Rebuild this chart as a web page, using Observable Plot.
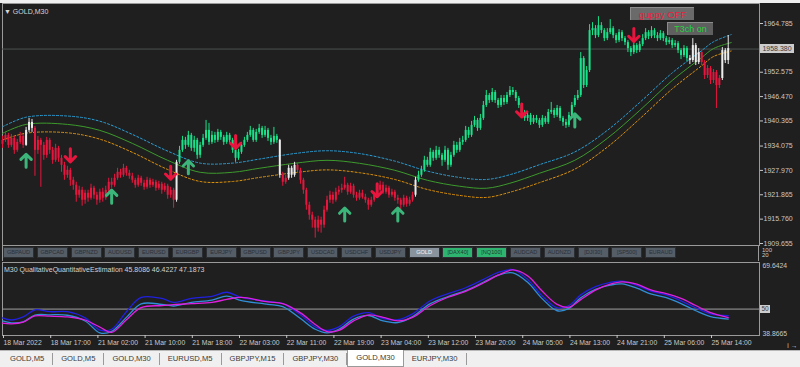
<!DOCTYPE html>
<html><head><meta charset="utf-8">
<script src="https://cdn.jsdelivr.net/npm/d3@7"></script>
<script src="https://cdn.jsdelivr.net/npm/@observablehq/plot@0.6"></script>
<style>
html,body{margin:0;padding:0;width:800px;height:367px;overflow:hidden;background:#f0f0f0;font-family:"Liberation Sans",Arial,sans-serif;}
.abs{position:absolute;}
#dark{left:0;top:3px;width:800px;height:347px;background:#1f1f1f;}
#main{left:0;top:3px;}
#ind{left:0;top:261px;}
.btn{position:absolute;top:247px;width:29px;height:9px;border:1px solid #2b2f33;background:#555d67;color:#2a3038;font-size:5.6px;line-height:9px;text-align:center;white-space:nowrap;}
.btn.act{background:#89939d;color:#f4f4f4;}
.btn.on{background:#2fb470;color:#1d3b2b;}
#tabs{left:0;top:350px;width:800px;height:17px;background:#f0f0f0;border-top:1px solid #b8b8b8;display:flex;font-size:7.6px;color:#3a3a3a;}
.tab{padding:0 8px;border-right:1px solid #9a9a9a;height:12px;margin-top:2px;line-height:12px;white-space:nowrap;}
.tab.cur{background:#fff;border:1px solid #9a9a9a;border-top:none;height:16px;margin-top:-1px;line-height:16px;}
</style></head><body>
<div id="dark" class="abs"></div>
<div id="main" class="abs"></div>
<div id="ind" class="abs"></div>
<div id="overlay"></div>
<div id="tabs" class="abs"></div>
<script>
// ---------- data ----------
const firstOpen = 1934.5;
const closes = [1935.5,1936.75,1934.25,1936.0,1933.0,1935.0,1936.5,1934.25,1938.0,1940.0,
1938.5,1933.0,1935.5,1934.25,1931.75,1935.5,1933.0,1930.5,1933.5,1931.0,
1929.25,1926.75,1928.0,1925.5,1924.25,1921.75,1923.0,1920.5,1922.25,1921.0,
1923.5,1921.75,1920.5,1922.5,1921.0,1923.0,1925.0,1924.25,1926.0,1927.5,
1926.75,1928.5,1927.25,1926.5,1925.5,1924.25,1926.0,1924.75,1923.75,1925.5,
1924.25,1925.0,1923.5,1924.5,1923.0,1924.0,1921.75,1923.0,1920.5,1930.0,
1933.0,1935.5,1934.25,1936.75,1933.5,1935.5,1931.75,1934.25,1936.0,1938.0,
1935.0,1936.75,1935.5,1937.5,1936.25,1935.0,1936.75,1935.5,1933.0,1931.0,
1932.5,1934.25,1935.5,1936.75,1938.0,1935.5,1937.5,1938.5,1936.75,1938.0,
1936.0,1935.0,1936.5,1935.5,1926.75,1925.0,1926.0,1928.5,1926.75,1929.25,
1928.0,1925.5,1923.0,1919.25,1916.75,1915.5,1913.5,1915.5,1914.25,1918.0,
1920.5,1921.75,1920.5,1922.5,1923.0,1923.5,1924.25,1922.5,1924.0,1921.75,
1921.0,1922.25,1921.25,1920.5,1919.25,1920.5,1921.75,1923.0,1924.25,1922.5,
1923.5,1921.75,1922.5,1921.0,1920.5,1919.25,1921.0,1919.5,1920.5,1921.75,
1925.5,1926.75,1928.0,1930.5,1929.25,1932.5,1931.0,1933.0,1931.75,1930.5,
1933.0,1929.25,1931.75,1934.25,1933.0,1935.0,1935.5,1938.0,1936.75,1939.25,
1940.5,1938.5,1941.0,1944.25,1946.75,1945.5,1947.5,1945.5,1944.25,1946.0,
1945.0,1946.75,1948.0,1947.5,1946.0,1944.25,1942.5,1941.0,1941.75,1940.0,
1941.0,1940.5,1939.25,1941.0,1940.0,1942.5,1943.0,1941.75,1943.5,1941.0,
1940.0,1939.25,1941.75,1944.25,1946.0,1946.75,1956.0,1949.25,1953.0,1963.0,
1963.5,1961.75,1964.25,1963.0,1961.0,1962.5,1963.5,1961.75,1960.5,1962.5,
1961.0,1960.0,1958.5,1957.5,1959.25,1958.0,1959.5,1961.0,1962.5,1961.5,
1963.0,1961.75,1961.0,1962.25,1961.0,1960.0,1960.5,1959.25,1959.75,1958.0,
1956.75,1958.5,1956.0,1955.5,1959.25,1955.0,1957.5,1955.0,1951.75,1953.5,
1950.5,1952.5,1949.25,1951.0,1958.0,1955.5,1958.5];
const highs = [1936.5,1937.5,1937.25,1937.0,1936.5,1935.75,1937.5,1937.0,1938.75,1941.0,
1940.75,1939.0,1936.5,1936.0,1935.0,1936.25,1936.0,1933.75,1934.5,1934.0,
1931.75,1930.0,1929.0,1928.5,1926.25,1925.0,1924.0,1923.75,1923.0,1923.0,
1924.5,1924.0,1922.5,1923.25,1923.5,1924.0,1926.0,1926.0,1927.0,1928.5,
1928.25,1929.5,1929.0,1928.0,1927.25,1926.0,1926.75,1926.5,1925.5,1926.25,
1926.0,1925.75,1925.5,1925.25,1925.0,1924.75,1924.5,1923.75,1923.5,1930.5,
1934.0,1936.5,1936.25,1937.75,1937.25,1936.5,1936.0,1935.0,1937.0,1940.5,
1939.75,1937.75,1937.5,1938.25,1938.0,1936.75,1937.5,1937.25,1936.0,1933.5,
1933.25,1935.0,1936.25,1937.5,1939.0,1938.5,1938.25,1939.5,1939.0,1939.0,
1938.5,1936.75,1938.75,1937.0,1935.75,1927.5,1926.75,1929.25,1929.0,1930.0,
1929.75,1928.5,1926.0,1923.5,1920.0,1917.5,1916.25,1916.5,1916.25,1919.0,
1921.5,1922.75,1922.5,1923.5,1924.0,1924.5,1926.25,1924.75,1924.75,1924.5,
1922.5,1923.0,1923.0,1922.0,1921.0,1921.25,1922.5,1924.0,1925.25,1925.0,
1924.25,1924.0,1923.25,1923.0,1921.75,1921.0,1921.75,1921.5,1921.25,1922.5,
1926.25,1927.75,1929.0,1931.5,1931.25,1933.5,1933.0,1934.0,1933.75,1932.25,
1934.0,1933.5,1932.5,1935.25,1935.0,1936.0,1936.5,1939.0,1938.75,1940.25,
1941.5,1941.0,1942.0,1945.25,1948.0,1947.25,1948.5,1948.0,1946.0,1946.75,
1946.75,1947.5,1949.0,1948.75,1948.0,1946.5,1944.75,1943.0,1942.5,1942.25,
1941.75,1941.75,1941.0,1941.75,1941.5,1943.25,1945.0,1943.5,1944.25,1944.0,
1941.5,1940.75,1942.5,1945.0,1946.75,1948.0,1957.5,1956.5,1954.0,1964.5,
1965.0,1964.25,1966.5,1965.0,1963.5,1963.5,1965.75,1964.0,1962.25,1963.25,
1963.0,1961.5,1960.5,1959.0,1960.0,1959.75,1960.25,1962.0,1963.5,1963.0,
1964.0,1963.5,1962.5,1963.0,1962.75,1961.5,1961.25,1961.0,1960.5,1960.25,
1958.5,1959.25,1959.0,1956.75,1961.0,1959.75,1958.5,1958.0,1955.5,1954.25,
1954.0,1953.25,1953.0,1951.75,1958.75,1958.5,1961.75];
const lows = [1933.5,1935.0,1933.5,1933.75,1932.0,1932.5,1934.5,1933.5,1934.0,1937.5,
1937.5,1926.5,1932.0,1923.75,1930.5,1931.0,1932.0,1929.5,1930.0,1930.0,
1927.5,1925.5,1926.0,1924.0,1923.0,1920.0,1921.0,1919.0,1919.5,1920.0,
1920.5,1920.75,1919.25,1919.75,1920.0,1920.5,1922.5,1923.5,1923.75,1925.5,
1926.0,1926.25,1926.5,1925.75,1924.75,1923.5,1923.75,1924.0,1923.0,1923.25,
1923.5,1923.75,1922.75,1923.0,1922.0,1922.5,1920.75,1921.0,1918.5,1920.0,
1929.5,1932.5,1933.25,1933.75,1932.75,1932.5,1930.75,1931.0,1933.75,1935.5,
1934.25,1934.5,1934.75,1935.0,1935.5,1934.25,1934.5,1934.75,1932.25,1930.0,
1930.5,1932.0,1933.75,1935.0,1936.25,1935.0,1935.0,1937.0,1936.0,1936.25,
1935.25,1934.25,1934.5,1934.75,1926.0,1924.0,1924.5,1925.5,1926.0,1926.25,
1927.25,1924.5,1922.0,1918.0,1915.5,1913.5,1911.0,1912.5,1912.25,1913.5,
1917.5,1919.75,1919.5,1920.0,1921.75,1922.25,1923.0,1921.75,1922.0,1921.0,
1920.25,1920.5,1920.75,1919.75,1918.0,1918.75,1920.0,1921.25,1922.5,1922.0,
1922.0,1921.0,1921.25,1920.25,1919.5,1918.0,1918.75,1918.75,1919.0,1920.0,
1921.25,1925.0,1926.25,1927.5,1928.75,1928.75,1930.25,1930.5,1931.0,1929.0,
1930.0,1928.0,1928.75,1931.25,1932.25,1932.5,1934.25,1935.0,1936.0,1936.25,
1938.75,1937.75,1938.0,1940.5,1943.75,1944.75,1945.0,1944.75,1943.5,1943.75,
1944.25,1944.5,1946.25,1946.75,1945.25,1943.5,1941.5,1940.25,1940.25,1939.25,
1939.5,1939.75,1938.5,1938.75,1939.5,1939.5,1942.0,1941.0,1941.25,1940.25,
1939.0,1938.5,1938.75,1941.25,1943.75,1945.5,1946.25,1948.5,1948.75,1952.5,
1961.75,1961.0,1961.25,1962.25,1960.25,1960.5,1962.0,1961.0,1959.75,1960.0,
1960.25,1959.25,1957.5,1956.5,1957.0,1957.25,1957.5,1959.0,1960.5,1960.75,
1961.0,1961.0,1960.25,1960.5,1960.25,1959.25,1959.5,1958.5,1958.75,1957.25,
1955.75,1956.25,1955.25,1954.5,1955.0,1954.25,1954.5,1954.25,1950.75,1951.0,
1949.5,1949.75,1943.5,1948.5,1950.5,1954.75,1954.5];
// candle colour state per run: g = up trend, r = down trend, w = neutral
const colorRuns = [["r",8],["w",3],["r",48],["w",1],["g",34],["w",1],["r",2],["w",3],["r",40],["w",1],["g",92],["w",4],["r",7],["w",3]];

// channel (T3) lines
const bandBars = [0,8,22,33,44,56,67,78,87,99,110,121,133,144,155,164,172,182,194,205,216,227,237,241,247];
const bandMid = [1937.25,1939.5,1939.5,1938.0,1934.75,1930.5,1927.5,1927.5,1928.5,1929.75,1930.5,1929.75,1928.0,1925.5,1924.0,1923.5,1924.75,1927.25,1930.5,1936.0,1943.0,1950.5,1956.25,1958.5,1960.0];
const bandUpper = [1938.9,1941.3,1941.6,1940.3,1937.0,1932.8,1929.8,1929.8,1930.8,1932.2,1932.9,1932.2,1930.3,1927.8,1926.2,1925.7,1926.9,1929.4,1932.6,1938.0,1945.0,1952.4,1958.0,1960.2,1962.0];
const bandLower = [1935.6,1937.3,1937.4,1935.8,1932.5,1928.2,1925.2,1925.2,1926.2,1927.4,1928.1,1927.4,1925.7,1923.2,1921.7,1921.2,1922.5,1924.9,1928.3,1933.8,1940.9,1948.4,1954.2,1956.5,1957.9];

// signal arrows
const upBars = [8,37,63,116,134,194];
const upPrices = [1930.4,1921.4,1928.75,1916.9,1916.9,1940.5];
const downBars = [23,57,79,127,176,214];
const downPrices = [1931.75,1927.4,1935.1,1923.0,1943.0,1961.9];

const priceTicks = [1964.785,1952.575,1946.470,1940.365,1934.075,1927.970,1921.865,1915.760,1909.655];
const lastPrice = 1958.380;

// QQE indicator
const qqeBars = [0,3,7,11,16,22,28,33,37,42,47,54,58,64,71,76,81,90,95,101,106,110,114,119,124,129,134,139,145,151,157,163,168,173,178,183,188,192,196,201,206,210,215,220,225,230,235,240,246];
const qqeBlue = [46.3,45.4,46.7,49.7,48.9,48.9,46.3,41.1,41.5,48.9,54.9,54.5,52.8,54.5,55.4,57.1,54.9,53.2,52.3,47.6,42.5,41.0,42.5,47.0,48.5,46.0,45.5,48.0,53.5,56.5,59.0,62.5,65.5,66.6,62.5,55.5,50.5,51.5,56.0,59.5,61.3,61.8,60.0,57.5,56.0,53.5,50.5,48.0,47.2];
const qqeMagenta = [44.1,43.8,44.5,47.1,47.0,46.7,45.4,42.4,40.2,45.5,50.6,51.5,51.9,52.3,52.8,54.1,54.9,53.0,52.3,48.4,43.5,40.5,41.0,45.0,47.5,46.5,45.0,46.5,51.5,55.0,57.5,61.0,64.3,66.5,64.0,57.5,52.0,50.8,54.0,58.0,60.5,61.5,60.5,58.0,56.5,54.5,51.5,48.5,46.4];
const qqeLight = [45.0,44.2,44.6,47.5,47.6,47.4,45.0,40.0,40.6,46.5,52.2,52.0,51.3,52.8,53.8,55.5,53.6,52.0,51.0,46.0,41.5,40.0,41.5,45.8,47.3,45.0,44.3,46.8,52.3,55.3,57.8,61.3,64.3,65.3,61.3,54.3,49.3,50.3,54.8,58.3,60.1,60.6,58.8,56.3,54.8,52.3,49.3,46.8,45.8];
const qqeRange = [69.6424, 38.8665];
const qqeLevel = 50;

const xTickBars = [0,16,32,48,64,80,96,112,128,144,160,176,192,208,224,240];
const xTickLabels = ["18 Mar 2022","18 Mar 17:00","21 Mar 02:00","21 Mar 10:00","21 Mar 18:00","22 Mar 03:00","22 Mar 11:00","22 Mar 19:00","23 Mar 04:00","23 Mar 12:00","23 Mar 20:00","24 Mar 05:00","24 Mar 13:00","24 Mar 21:00","25 Mar 06:00","25 Mar 14:00"];

const buttonLabels = ["GBPAUD","GBPCAD","GBPNZD","AUDUSD","EURUSD","EURGBP","EURJPY","GBPUSD","GBPJPY","USDCAD","USDCHF","USDJPY","GOLD","[DAX40]","[NQ100]","AUDCAD","AUDNZD","[DJI30]","[SP500]","EURAUD"];
const activeButton = "GOLD";
const greenButtons = ["[DAX40]","[NQ100]"];
const tabLabels = ["GOLD,M5","GOLD,M5","GOLD,M30","EURUSD,M5","GBPJPY,M15","GBPJPY,M30","GOLD,M30","EURJPY,M30"];
const activeTab = 6;

// ---------- build ----------
const trend = colorRuns.flatMap(([s, n]) => Array(n).fill(s));
const candles = closes.map((c, i) => ({i, open: i ? closes[i - 1] : firstOpen, close: c, high: highs[i], low: lows[i], s: trend[i]}));
const bands = bandBars.map((b, k) => ({i: b, mid: bandMid[k], upper: bandUpper[k], lower: bandLower[k]}));
const ups = upBars.map((b, k) => ({i: b, p: upPrices[k]}));
const downs = downBars.map((b, k) => ({i: b, p: downPrices[k]}));
const qqe = qqeBars.map((b, k) => ({i: b, blue: qqeBlue[k], magenta: qqeMagenta[k], light: qqeLight[k]}));
const labelMap = new Map(xTickBars.map((b, k) => [b, xTickLabels[k]]));
const font = "Liberation Sans, Arial, sans-serif";
const xDomain = [0, 256.6];

const main = Plot.plot({
  width: 800, height: 242, marginLeft: 2, marginRight: 41, marginTop: 0, marginBottom: 0,
  style: {background: "transparent", color: "#c8c8c8", fontFamily: font, fontSize: "7px", overflow: "visible"},
  x: {domain: xDomain, axis: null},
  y: {domain: [1909.154, 1969.797]},
  color: {domain: ["g", "r", "w"], range: ["#19e38a", "#e8163f", "#ececec"]},
  marks: [
    Plot.frame({stroke: "#9a9a9a"}),
    Plot.ruleY([lastPrice], {stroke: "#4a504d"}),
    Plot.line(bands, {x: "i", y: "upper", stroke: "#2aa0d8", strokeWidth: 1, strokeDasharray: "2,2", curve: "catmull-rom"}),
    Plot.line(bands, {x: "i", y: "lower", stroke: "#e0940c", strokeWidth: 1, strokeDasharray: "2,2", curve: "catmull-rom"}),
    Plot.line(bands, {x: "i", y: "mid", stroke: "#3c9a2c", strokeWidth: 1, curve: "catmull-rom"}),
    Plot.ruleX(candles, {x: "i", y1: "low", y2: "high", stroke: "s", strokeWidth: 1}),
    Plot.ruleX(candles, {x: "i", y1: "open", y2: "close", stroke: "s", strokeWidth: 2}),
    Plot.vector(ups, {x: "i", y: "p", length: 13, rotate: 0, anchor: "middle", stroke: "#3cb57a", strokeWidth: 3, r: 7}),
    Plot.vector(downs, {x: "i", y: "p", length: 13, rotate: 180, anchor: "middle", stroke: "#e8163f", strokeWidth: 3, r: 7}),
    Plot.axisY(priceTicks, {anchor: "right", tickSize: 3, tickPadding: 1, tickFormat: d => d.toFixed(3), stroke: "#c8c8c8"})
  ]
});
document.getElementById("main").appendChild(main);

const ind = Plot.plot({
  width: 800, height: 89, marginLeft: 2, marginRight: 41, marginTop: 1, marginBottom: 15,
  style: {background: "transparent", color: "#c8c8c8", fontFamily: font, fontSize: "6.8px", overflow: "visible"},
  x: {domain: xDomain},
  y: {domain: [qqeRange[1], qqeRange[0]], axis: null},
  marks: [
    Plot.frame({stroke: "#9a9a9a"}),
    Plot.ruleY([qqeLevel], {stroke: "#a0a0a0"}),
    Plot.line(qqe, {x: "i", y: "light", stroke: "#2f8fd8", strokeWidth: 1.3, curve: "catmull-rom"}),
    Plot.line(qqe, {x: "i", y: "blue", stroke: "#2020e0", strokeWidth: 1.3, curve: "catmull-rom"}),
    Plot.line(qqe, {x: "i", y: "magenta", stroke: "#e020e0", strokeWidth: 1.3, curve: "catmull-rom"}),
    Plot.axisX(xTickBars, {anchor: "bottom", tickSize: 3, tickPadding: 2, textAnchor: "start", dx: 1, tickFormat: d => labelMap.get(d)}),
    Plot.text([qqeRange[0]], {y: d => d, text: d => d.toFixed(4), frameAnchor: "right", textAnchor: "start", lineAnchor: "top", dx: 3, dy: 1, fill: "#c8c8c8"}),
    Plot.text([qqeRange[1]], {y: d => d, text: d => d.toFixed(4), frameAnchor: "right", textAnchor: "start", lineAnchor: "bottom", dx: 3, dy: 0, fill: "#c8c8c8"})
  ]
});
document.getElementById("ind").appendChild(ind);

// ---------- overlays ----------
const ov = document.getElementById("overlay");
function add(html, css) { const d = document.createElement("div"); d.className = "abs"; d.innerHTML = html; Object.assign(d.style, css); ov.appendChild(d); return d; }
add("&#9660; GOLD,M30", {left: "4px", top: "8px", fontSize: "7px", color: "#d6d6d6", whiteSpace: "nowrap"});
add("guppy OFF", {left: "630px", top: "7px", width: "64px", height: "13px", lineHeight: "13px", background: "#6a6a6a", borderTop: "1px solid #8c8c8c", borderLeft: "1px solid #8c8c8c", color: "#e8213e", fontSize: "9.5px", textAlign: "center", boxSizing: "border-box", whiteSpace: "nowrap"});
add("T3ch on", {left: "667px", top: "22px", width: "46px", height: "13px", lineHeight: "13px", background: "#5f5f5f", borderTop: "1px solid #8c8c8c", borderLeft: "1px solid #8c8c8c", color: "#22d43f", fontSize: "9px", textAlign: "center", boxSizing: "border-box", whiteSpace: "nowrap"});
const yp = main.scale("y").apply(lastPrice) + 3;
add(lastPrice.toFixed(3), {left: "760px", top: (yp - 4.5) + "px", width: "34px", height: "9px", lineHeight: "9px", background: "#cdcdcd", color: "#3c3c3c", fontSize: "7px", textAlign: "center"});
add("", {left: "2px", top: "245px", width: "757px", height: "16px", borderLeft: "1px solid #9a9a9a", borderRight: "1px solid #9a9a9a", boxSizing: "border-box"});
buttonLabels.forEach((b, k) => {
  const d = document.createElement("div");
  d.className = "btn" + (b === activeButton ? " act" : "") + (greenButtons.includes(b) ? " on" : "");
  d.style.left = (3 + k * 33.8) + "px";
  d.textContent = b;
  ov.appendChild(d);
});
add("100", {left: "762px", top: "247px", fontSize: "6px", color: "#c8c8c8"});
add("20", {left: "762px", top: "252px", fontSize: "6px", color: "#c8c8c8"});
add("M30 QualitativeQuantitativeEstimation 45.8086 46.4227 47.1873", {left: "4px", top: "266px", fontSize: "7px", color: "#d2d2d2", whiteSpace: "nowrap"});
const y50 = ind.scale("y").apply(qqeLevel) + 261;
add(String(qqeLevel), {left: "760px", top: (y50 - 4) + "px", width: "10px", height: "8px", lineHeight: "8px", background: "#cdcdcd", color: "#3c3c3c", fontSize: "6.5px", textAlign: "center"});
const tabs = document.getElementById("tabs");
const pad = document.createElement("div"); pad.style.width = "2px"; tabs.appendChild(pad);
tabLabels.forEach((t, k) => {
  const d = document.createElement("div");
  d.className = "tab" + (k === activeTab ? " cur" : "");
  d.textContent = t;
  tabs.appendChild(d);
});
add("&#9666;&nbsp;&nbsp;&nbsp;&#9656;", {left: "773px", top: "354px", fontSize: "7px", color: "#9a9a9a"});
</script>
</body></html>
